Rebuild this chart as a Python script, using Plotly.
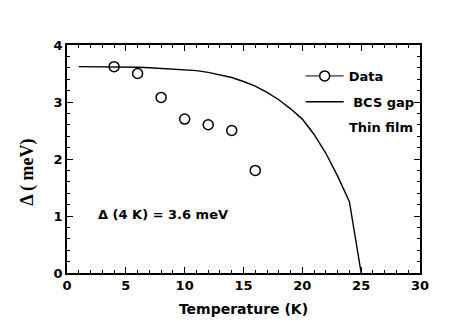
import plotly.graph_objects as go

data_T = [4, 6, 8, 10, 12, 14, 16]
data_gap = [3.62, 3.50, 3.08, 2.70, 2.60, 2.50, 1.80]

bcs_T = [1, 2, 3, 4, 5, 6, 7, 8, 9, 10, 11, 12, 13, 14, 15, 16, 17, 18, 19, 20, 21, 22, 23, 24, 25]
bcs_gap = [3.62, 3.62, 3.62, 3.62, 3.615, 3.61, 3.60, 3.59, 3.58, 3.57, 3.55, 3.52, 3.48,
           3.43, 3.36, 3.28, 3.17, 3.04, 2.88, 2.70, 2.43, 2.10, 1.70, 1.25, 0.0]

x_title = "Temperature (K)"
y_title = "Δ ( meV)"
note = "Δ (4 K) = 3.6 meV"
extra_label = "Thin film"

FONT = "DejaVu Sans, Arial, sans-serif"
SERIF = "Liberation Serif, Times New Roman, serif"

fig = go.Figure()
fig.add_trace(go.Scatter(
    x=data_T, y=data_gap, mode="markers", name="Data",
    marker=dict(symbol="circle-open", size=10, color="black", line=dict(width=1.5)),
    legendgroup="a", showlegend=False,
))
# legend-only entry for the Data symbol (line + circle)
fig.add_trace(go.Scatter(
    x=[None], y=[None], mode="lines+markers", name="Data",
    line=dict(color="black", width=1),
    marker=dict(symbol="circle", size=10, color="white", line=dict(width=1.5, color="black")),
    legendgroup="a",
))
fig.add_trace(go.Scatter(
    x=bcs_T, y=bcs_gap, mode="lines", name=" BCS gap",
    line=dict(color="black", width=1.4),
    legendgroup="b",
))

axis_common = dict(
    showline=True, linecolor="black", linewidth=1.5, mirror="allticks",
    ticks="inside", ticklen=6, tickwidth=1.2, tickcolor="black",
    showgrid=False, zeroline=False, automargin=False,
    tickfont=dict(family=FONT, size=13, color="black", weight="bold"),
)

fig.update_xaxes(range=[0, 30], dtick=5, tick0=0, ticklabelstandoff=0,
                 minor=dict(dtick=1, ticks="inside", ticklen=3, tickcolor="black", tickwidth=1),
                 title=dict(text=x_title, font=dict(family=FONT, size=14, color="black", weight="bold"),
                            standoff=12),
                 **axis_common)
fig.update_yaxes(range=[0, 4], dtick=1, tick0=0,
                 minor=dict(dtick=0.2, ticks="inside", ticklen=3, tickcolor="black", tickwidth=1),
                 **axis_common)

fig.add_annotation(x=-0.11, y=0.44, xref="paper", yref="paper", text="<b>" + y_title + "</b>",
                   showarrow=False, textangle=-90, xanchor="center", yanchor="middle",
                   font=dict(family=SERIF, size=18, color="black"))
fig.add_annotation(x=2.5, y=1.03, xref="x", yref="y", text="<b>" + note + "</b>",
                   showarrow=False, xanchor="left", yanchor="middle",
                   font=dict(family=FONT, size=13, color="black"))
fig.add_annotation(x=23.8, y=2.55, xref="x", yref="y", text="<b>" + extra_label + "</b>",
                   showarrow=False, xanchor="left", yanchor="middle",
                   font=dict(family=FONT, size=13, color="black"))

# page body has an 8px default margin; size the figure so the plot frame lands where the reference has it
fig.update_layout(
    width=455, height=315,
    margin=dict(l=59, r=43, t=37, b=50, autoexpand=False),
    paper_bgcolor="white", plot_bgcolor="white",
    showlegend=True,
    legend=dict(x=0.662, y=0.93, xanchor="left", yanchor="top", bgcolor="rgba(0,0,0,0)",
                font=dict(family=FONT, size=13, color="black", weight="bold"),
                tracegroupgap=6, traceorder="grouped", itemwidth=38),
)

fig.write_html("out.html")
